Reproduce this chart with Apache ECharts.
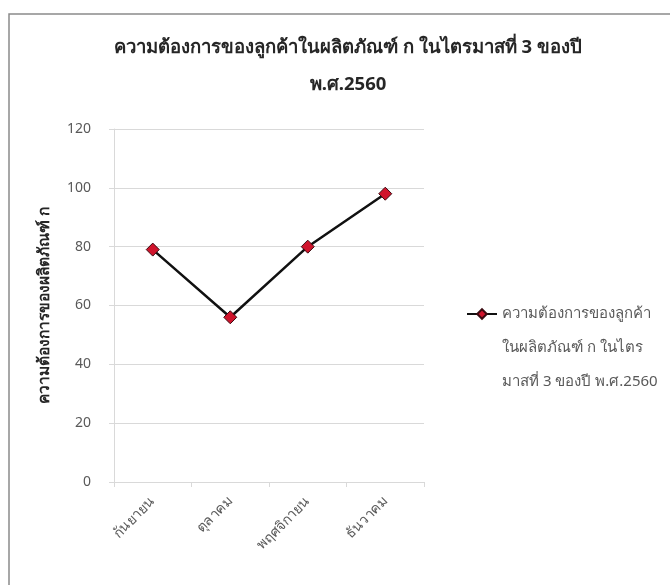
<!DOCTYPE html>
<html>
<head>
<meta charset="utf-8">
<script src="https://cdn.jsdelivr.net/npm/echarts@6/dist/echarts.min.js"></script>
<style>
  html, body { margin: 0; padding: 0; background: #fff; }
  #chart { width: 670px; height: 585px; }
</style>
</head>
<body>
<div id="chart"></div>
<script>
// Monthly demand for product ก, Q3 of B.E. 2560
const months = ['กันยายน', 'ตุลาคม', 'พฤศจิกายน', 'ธันวาคม'];
const demand = [79, 56, 80, 98];
const yTicks = { min: 0, max: 120, interval: 20 };
const seriesName = 'ความต้องการของลูกค้าในผลิตภัณฑ์ ก ในไตรมาสที่ 3 ของปี พ.ศ.2560';
const legendLines = ['ความต้องการของลูกค้า', 'ในผลิตภัณฑ์ ก ในไตร', 'มาสที่ 3 ของปี พ.ศ.2560'];
const titleText = 'ความต้องการของลูกค้าในผลิตภัณฑ์ ก ในไตรมาสที่ 3 ของปี\nพ.ศ.2560';
const yAxisTitle = 'ความต้องการของผลิตภัณฑ์ ก';

const FONT = 'Tahoma, "Noto Sans", "DejaVu Sans", sans-serif';
const chart = echarts.init(document.getElementById('chart'), null, { renderer: 'canvas' });

// Legend text is centred on its icon; two blank lines in front keep the
// icon level with the first wrapped line.
const legendLabel = ['', ''].concat(legendLines).join('\n');

chart.setOption({
  backgroundColor: '#fff',
  animation: false,
  textStyle: { fontFamily: FONT },
  title: {
    text: titleText,
    left: 343,
    top: 24,
    textAlign: 'center',
    textStyle: { fontSize: 18.5, fontWeight: 'bold', color: '#262626', lineHeight: 37, fontFamily: FONT }
  },
  graphic: [{
    type: 'rect',
    shape: { x: 9, y: 14, width: 720, height: 640 },
    style: { fill: 'none', stroke: '#8a8a8a', lineWidth: 1.5 },
    silent: true,
    z: -1
  }],
  legend: {
    orient: 'vertical',
    left: 466,
    top: 229,
    padding: 0,
    itemWidth: 30,
    itemHeight: 12,
    itemGap: 0,
    data: [seriesName],
    formatter: () => legendLabel,
    textStyle: { fontSize: 15, color: '#595959', lineHeight: 34, fontFamily: FONT }
  },
  grid: { left: 114, right: 246, top: 129, bottom: 103 },
  xAxis: {
    type: 'category',
    data: months,
    boundaryGap: true,
    axisLine: { lineStyle: { color: '#d9d9d9', width: 1 } },
    axisTick: { show: true, alignWithLabel: false, length: 5, lineStyle: { color: '#d9d9d9' } },
    axisLabel: { rotate: 45, color: '#595959', fontSize: 14, margin: 17, fontFamily: FONT }
  },
  yAxis: {
    type: 'value',
    min: yTicks.min,
    max: yTicks.max,
    interval: yTicks.interval,
    name: yAxisTitle,
    nameLocation: 'middle',
    nameGap: 61,
    nameRotate: 90,
    nameTextStyle: { fontSize: 15.5, fontWeight: 'bold', color: '#262626', fontFamily: FONT },
    axisLine: { show: true, lineStyle: { color: '#d9d9d9', width: 1 } },
    axisTick: { show: true, length: 5, lineStyle: { color: '#d9d9d9' } },
    axisLabel: { color: '#595959', fontSize: 14, margin: 23, fontFamily: FONT },
    splitLine: { lineStyle: { color: '#d9d9d9', width: 1 } }
  },
  series: [{
    name: seriesName,
    type: 'line',
    data: demand,
    symbol: 'diamond',
    symbolSize: 13,
    lineStyle: { color: '#111', width: 2.5 },
    itemStyle: { color: '#d0142c', borderColor: '#3a0a10', borderWidth: 1 }
  }]
});
</script>
</body>
</html>
